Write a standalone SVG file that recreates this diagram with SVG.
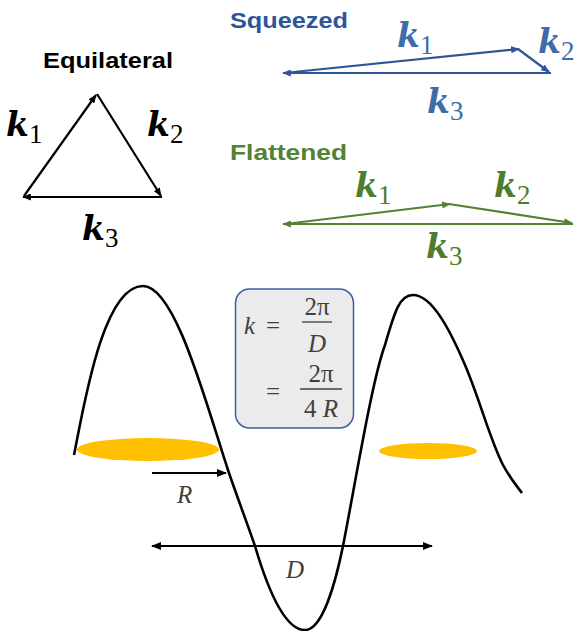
<svg xmlns="http://www.w3.org/2000/svg" width="579" height="631" viewBox="0 0 579 631">
<style>
.title{font-family:"Liberation Sans",Arial,sans-serif;font-weight:bold;font-size:22px}
.kb{font-family:"DejaVu Serif","Liberation Serif",serif;font-weight:bold;font-style:italic;font-size:33px}
.sub{font-family:"Liberation Serif","Times New Roman",serif;font-size:27px}
.m{font-family:"Liberation Serif","Times New Roman",serif;font-size:25px;fill:#404040}
.mi{font-style:italic}
.vec{fill:none;stroke-width:2.2}
</style>
<defs>
<marker id="ab" viewBox="0 0 10 8" refX="9" refY="4" markerWidth="9" markerHeight="7" markerUnits="userSpaceOnUse" orient="auto"><path d="M0,0 L10,4 L0,8 z" fill="#000"/></marker>
<marker id="abl" viewBox="0 0 10 8" refX="9" refY="4" markerWidth="9" markerHeight="7" markerUnits="userSpaceOnUse" orient="auto"><path d="M0,0 L10,4 L0,8 z" fill="#2F5597"/></marker>
<marker id="agr" viewBox="0 0 10 8" refX="9" refY="4" markerWidth="9" markerHeight="7" markerUnits="userSpaceOnUse" orient="auto"><path d="M0,0 L10,4 L0,8 z" fill="#548235"/></marker>
<marker id="abig" viewBox="0 0 10 8" refX="9" refY="4" markerWidth="11" markerHeight="8" markerUnits="userSpaceOnUse" orient="auto-start-reverse"><path d="M0,0 L10,4 L0,8 z" fill="#000"/></marker>
</defs>

<g id="equilateral">
<text class="title" x="43" y="68" textLength="130" lengthAdjust="spacingAndGlyphs">Equilateral</text>
<line class="vec" stroke="#000" x1="24" y1="196" x2="96" y2="95" marker-end="url(#ab)"/>
<line class="vec" stroke="#000" x1="97" y1="94" x2="161" y2="196" marker-end="url(#ab)"/>
<line class="vec" stroke="#000" x1="162" y1="197" x2="23" y2="197" marker-end="url(#ab)"/>
<text x="6" y="136"><tspan class="kb">k</tspan><tspan class="sub" dy="7">1</tspan></text>
<text x="147" y="136"><tspan class="kb">k</tspan><tspan class="sub" dy="7">2</tspan></text>
<text x="82" y="240"><tspan class="kb">k</tspan><tspan class="sub" dy="7">3</tspan></text>
</g>

<g id="squeezed">
<text class="title" x="230" y="28" fill="#2F5597" textLength="118" lengthAdjust="spacingAndGlyphs">Squeezed</text>
<line class="vec" stroke="#2F5597" x1="284" y1="73" x2="519" y2="49" marker-end="url(#abl)"/>
<line class="vec" stroke="#2F5597" x1="518" y1="49" x2="549" y2="72" marker-end="url(#abl)"/>
<line class="vec" stroke="#2F5597" x1="551" y1="73" x2="283" y2="73" marker-end="url(#abl)"/>
<g fill="#3D6DA8">
<text x="397" y="47"><tspan class="kb">k</tspan><tspan class="sub" dy="7">1</tspan></text>
<text x="538" y="53"><tspan class="kb">k</tspan><tspan class="sub" dy="7">2</tspan></text>
<text x="427" y="113"><tspan class="kb">k</tspan><tspan class="sub" dy="7">3</tspan></text>
</g>
</g>

<g id="flattened">
<text class="title" x="230" y="160" fill="#548235" textLength="117" lengthAdjust="spacingAndGlyphs">Flattened</text>
<line class="vec" stroke="#548235" x1="285" y1="224" x2="450" y2="204" marker-end="url(#agr)"/>
<line class="vec" stroke="#548235" x1="449" y1="204" x2="572" y2="223" marker-end="url(#agr)"/>
<line class="vec" stroke="#548235" x1="573" y1="224" x2="283" y2="224" marker-end="url(#agr)"/>
<g fill="#4E7D2E">
<text x="355" y="197"><tspan class="kb">k</tspan><tspan class="sub" dy="7">1</tspan></text>
<text x="494" y="197"><tspan class="kb">k</tspan><tspan class="sub" dy="7">2</tspan></text>
<text x="426" y="258"><tspan class="kb">k</tspan><tspan class="sub" dy="7">3</tspan></text>
</g>
</g>

<g id="formula">
<rect x="235.5" y="289" width="118" height="139" rx="14" fill="#EBEBEB" stroke="#3A5FA0" stroke-width="1.5"/>
<text class="m mi" x="244" y="334" font-size="30">k</text>
<text class="m" x="266" y="334" font-size="30">=</text>
<text class="m" x="317" y="315" text-anchor="middle" font-size="24">2π</text>
<line x1="302" y1="322" x2="332" y2="322" stroke="#404040" stroke-width="1.3"/>
<text class="m mi" x="317" y="352" text-anchor="middle" font-size="28">D</text>
<text class="m" x="266" y="400" font-size="30">=</text>
<text class="m" x="321" y="382" text-anchor="middle" font-size="24">2π</text>
<line x1="300" y1="389" x2="342" y2="389" stroke="#404040" stroke-width="1.3"/>
<text class="m" x="321" y="417" text-anchor="middle" font-size="26">4 <tspan class="mi">R</tspan></text>
</g>

<g id="disks">
<ellipse cx="148" cy="449.5" rx="71" ry="11.5" fill="#FFC000"/>
<ellipse cx="428" cy="451" rx="49" ry="8" fill="#FFC000"/>
</g>

<g id="wave">
<path d="M74,455 C84,405 103,286 143,286 C175,286 205,400 228,470 C235,491 246,520 255,546 C268,590 285,630 305,630 C322,630 335,585 343,546 C355,485 372,380 385,345 C395,310 400,295 413,295 C432,295 450,330 465,365 C480,400 490,440 503,465 C510,478 516,485 522,493" fill="none" stroke="#000" stroke-width="2.6"/>
</g>

<g id="connectors">
<line x1="152" y1="473" x2="226" y2="473" stroke="#000" stroke-width="2.2" marker-end="url(#abig)"/>
<line x1="152" y1="546" x2="432" y2="546" stroke="#000" stroke-width="2.2" marker-start="url(#abig)" marker-end="url(#abig)"/>
</g>
<g id="labels">
<text class="m mi" x="177" y="503" font-size="27" fill="#000">R</text>
<text class="m mi" x="286" y="578" font-size="31" fill="#000">D</text>
</g>
</svg>
